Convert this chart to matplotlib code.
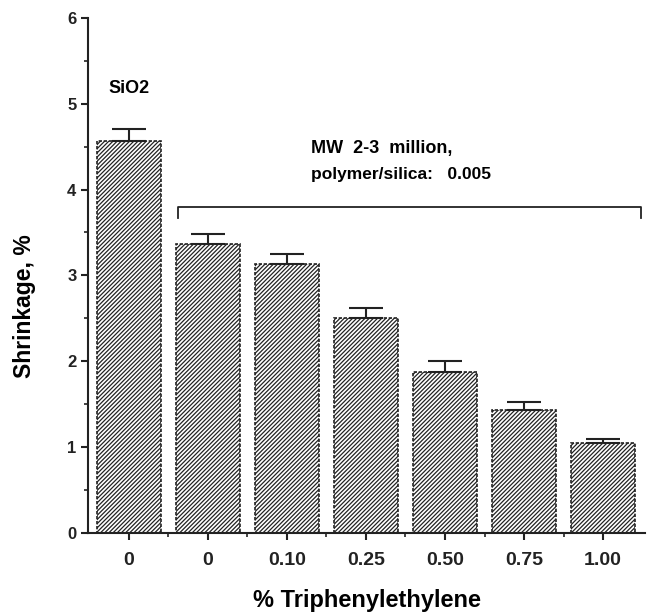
import matplotlib
matplotlib.use("Agg")
import matplotlib.pyplot as plt
import numpy as np

plt.rcParams['font.family'] = ['Liberation Sans', 'DejaVu Sans']
plt.rcParams['hatch.linewidth'] = 0.9
plt.rcParams['hatch.color'] = '#3a3a3a'

labels = ["0", "0", "0.10", "0.25", "0.50", "0.75", "1.00"]
shrinkage = [4.56, 3.36, 3.13, 2.50, 1.88, 1.43, 1.05]
err_up = [0.14, 0.12, 0.12, 0.12, 0.12, 0.09, 0.04]

fig = plt.figure(figsize=(6.49, 6.14), dpi=100)
ax = fig.add_axes([0.136, 0.132, 0.858, 0.839])

x = np.arange(len(labels))
ax.bar(x, shrinkage, width=0.81, facecolor='white', edgecolor='#222222',
       hatch='////////', linewidth=1.2, linestyle=(0, (2, 1)), zorder=2)
ax.errorbar(x, shrinkage, yerr=[np.zeros(len(x)), err_up], fmt='none',
            ecolor='#222222', elinewidth=1.5, capsize=12.5, capthick=1.5, zorder=3)

ax.set_xlim(-0.51, 6.53)
ax.set_ylim(0, 6)
ax.set_yticks(range(0, 7))
ax.set_yticks(np.arange(0.5, 6, 1.0), minor=True)
ax.set_xticks(x)
ax.set_xticks(x[:-1] + 0.5, minor=True)
ax.set_xticklabels(labels)
for s in ['top', 'right']:
    ax.spines[s].set_visible(False)
for s in ['left', 'bottom']:
    ax.spines[s].set_linewidth(1.5)
    ax.spines[s].set_color('#222222')
ax.tick_params(axis='both', which='major', length=5, width=1.5, colors='#222222')
ax.tick_params(axis='y', which='major', labelsize=12)
ax.tick_params(axis='x', which='major', labelsize=14, pad=9)
ax.tick_params(axis='both', which='minor', length=3, width=1.2, colors='#222222')
for lab in ax.get_xticklabels() + ax.get_yticklabels():
    lab.set_fontweight('bold')

ax.set_ylabel("Shrinkage, %", fontsize=16.5, fontweight='bold')
ax.yaxis.set_label_coords(-0.094, 0.44)
ax.set_xlabel("% Triphenylethylene", fontsize=17, fontweight='bold', labelpad=14)

ax.text(0, 5.08, "SiO2", ha='center', va='bottom', fontsize=13, fontweight='bold')
ax.text(2.3, 4.48, "MW  2-3  million,", ha='left', va='center', fontsize=13, fontweight='bold')
ax.text(2.3, 4.17, "polymer/silica:   0.005", ha='left', va='center', fontsize=12.5, fontweight='bold')

# bracket
bx0, bx1 = 0.62, 6.48
ax.plot([bx0, bx0, bx1, bx1], [3.67, 3.80, 3.80, 3.67], color='#222222', lw=1.3,
        clip_on=False, zorder=4)

fig.savefig("out.png", dpi=100)
